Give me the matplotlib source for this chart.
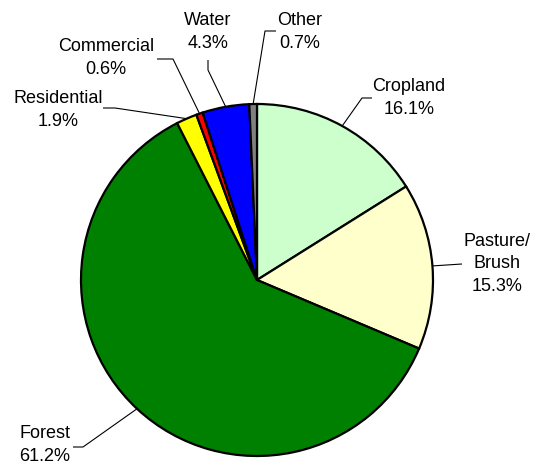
import numpy as np
import matplotlib
matplotlib.use("Agg")
import matplotlib.pyplot as plt

plt.rcParams["font.family"] = ["Liberation Sans", "DejaVu Sans"]

# dane z wykresu (kolejnosc zgodna z ruchem wskazowek zegara od gory)
categories = ["Cropland", "Pasture/\nBrush", "Forest", "Residential", "Commercial", "Water", "Other"]
shares = [16.1, 15.3, 61.2, 1.9, 0.6, 4.3, 0.7]
colors = ["#CCFFCC", "#FFFFCC", "#008000", "#FFFF00", "#FF0000", "#0000FF", "#808080"]

W, H = 533, 468
fig = plt.figure(figsize=(W / 100, H / 100), dpi=100)
ax = fig.add_axes([0, 0, 1, 1])

cx, cy, r = 257, 280, 176
wedges, _ = ax.pie(shares, colors=colors, startangle=90, counterclock=False,
                   center=(cx, H - cy), radius=r, frame=True,
                   wedgeprops=dict(edgecolor="black", linewidth=1.6))
ax.set_xlim(0, W)
ax.set_ylim(0, H)
ax.set_aspect("equal")
ax.axis("off")

# polozenie etykiet: (srodek tekstu, punkt zalamania linii, koniec linii)
label_pos = [
    ((409, 98), (362, 98), (372, 98)),
    ((497, 264), (462, 264), (462, 264)),
    ((45, 445), (83, 447), (73, 447)),
    ((58, 110), (115, 108), (103, 108)),
    ((106, 58), (173, 59), (157, 59)),
    ((208, 32), (208, 70), (208, 60)),
    ((300, 32), (265, 31), (276, 31)),
]

for w, name, val, (txt, knee, end) in zip(wedges, categories, shares, label_pos):
    ang = np.deg2rad((w.theta1 + w.theta2) / 2)
    ex = cx + r * np.cos(ang)
    ey = (H - cy) + r * np.sin(ang)
    ax.plot([ex, knee[0], end[0]], [ey, H - knee[1], H - end[1]],
            color="black", lw=0.8, solid_capstyle="butt")
    ax.text(txt[0], H - txt[1], f"{name}\n{val:.1f}%", ha="center", va="center",
            fontsize=13, linespacing=1.4)

fig.savefig("out.png", dpi=100)
